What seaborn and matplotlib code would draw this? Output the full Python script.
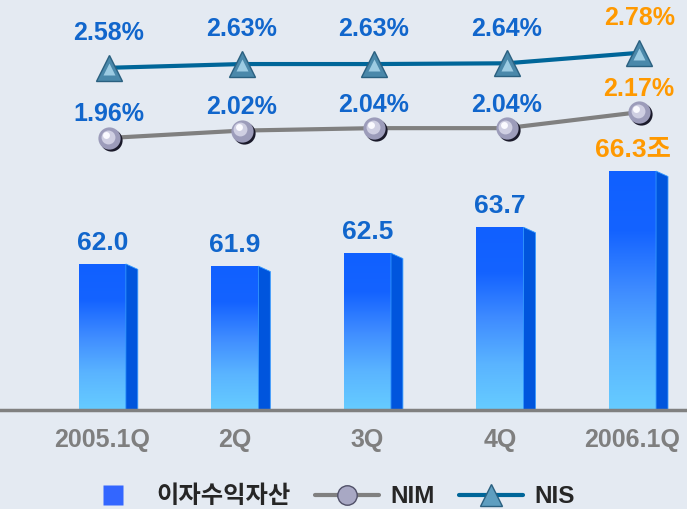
import numpy as np
import pandas as pd
import matplotlib
matplotlib.use("Agg")
import matplotlib.pyplot as plt
import matplotlib.transforms as mtransforms
from matplotlib.colors import LinearSegmentedColormap
from matplotlib.patches import Polygon
from matplotlib.lines import Line2D
import seaborn as sns

# ---------------------------- dados ----------------------------
quarters = ["2005.1Q", "2Q", "3Q", "4Q", "2006.1Q"]
assets = [62.0, 61.9, 62.5, 63.7, 66.3]
asset_labels = ["62.0", "61.9", "62.5", "63.7", "66.3조"]
nim = [1.96, 2.02, 2.04, 2.04, 2.17]
nis = [2.58, 2.63, 2.63, 2.64, 2.78]

# ---------------------------- estilo ----------------------------
bg = "#E4EAF2"
blue_txt = "#1166CC"
orange_txt = "#FF9900"
sns.set_style("white", {"axes.facecolor": bg, "figure.facecolor": bg})
plt.rcParams["font.family"] = ["Liberation Sans", "Noto Sans CJK KR"]

fig = plt.figure(figsize=(6.87, 5.09), dpi=100)
fig.patch.set_facecolor(bg)
ax = fig.add_axes([0, 99 / 509, 1, 410 / 509])
ax.set_facecolor(bg)

df = pd.DataFrame({"q": quarters, "v": assets})
bw = 0.355
sns.barplot(data=df, x="q", y="v", ax=ax, width=bw, color="#1060FF", saturation=1)

# gradiente nas barras + face lateral
cmap = LinearSegmentedColormap.from_list("g", ["#66CCFF", "#5AB4FF", "#3F8CFF", "#1463FF", "#1060FF"])
grad = np.linspace(0, 1, 256).reshape(-1, 1)
for p, v in zip(ax.patches, assets):
    x0 = p.get_x()
    w = p.get_width()
    p.set_facecolor("none")
    p.set_edgecolor("none")
    im = ax.imshow(grad, cmap=cmap, origin="lower", aspect="auto",
                   extent=[x0, x0 + w, 55.24, v], zorder=2)
    im.set_clip_path(p)
    d = 0.09
    side = Polygon([(x0 + w, 55.24), (x0 + w + d, 55.24), (x0 + w + d, v - 0.25), (x0 + w, v)],
                   closed=True, facecolor="#0055DD", edgecolor="#3399FF", lw=0.6, zorder=2)
    ax.add_patch(side)

ax.set_xlim(-0.772, 4.411)
ax.set_ylim(55.24, 74.22)

for i, (v, lab) in enumerate(zip(assets, asset_labels)):
    c = orange_txt if i == len(assets) - 1 else blue_txt
    ax.annotate(lab, (i, v), xytext=(0, 15), textcoords="offset points",
                ha="center", va="center", fontsize=19, fontweight="bold", color=c)

ax.set_xlabel("")
ax.set_ylabel("")
ax.set_yticks([])
ax.tick_params(axis="x", length=0, pad=13, labelsize=18, labelcolor="#7F7F7F")
for t in ax.get_xticklabels():
    t.set_fontweight("bold")
for s in ["top", "left", "right"]:
    ax.spines[s].set_visible(False)
ax.spines["bottom"].set_color("#808080")
ax.spines["bottom"].set_linewidth(2.5)

# ---------------------------- linhas NIM / NIS ----------------------------
xl = np.arange(len(quarters)) + 0.05

ax_nis = ax.twinx()
ax_nis.set_ylim(-1.983, 3.484)
ax_nim = ax.twinx()
ax_nim.set_ylim(-0.252, 3.082)
for a in (ax_nis, ax_nim):
    a.set_xlim(-0.772, 4.411)
    a.axis("off")

# NIS
ax_nis.plot(xl, nis, color="#006699", lw=3, zorder=3)
ax_nis.plot(xl, nis, ls="none", marker="^", ms=19, mfc="#4A88AA", mec="#2A6080", mew=1, zorder=4)
ax_nis.plot(xl, nis, ls="none", marker="^", ms=9, mfc="#9CCBE2", mec="none", zorder=5,
            transform=mtransforms.offset_copy(ax_nis.transData, fig=fig, x=0, y=-1, units="points"))

# NIM (esferas)
ax_nim.plot(xl, nim, color="#808080", lw=3, zorder=3)
ax_nim.plot(xl, nim, ls="none", marker="o", ms=16, mfc="#1A1A2A", mec="none", zorder=4,
            transform=mtransforms.offset_copy(ax_nim.transData, fig=fig, x=1.5, y=-1.5, units="points"))
ax_nim.plot(xl, nim, ls="none", marker="o", ms=16, mfc="#9C9CBA", mec="none", zorder=5)
ax_nim.plot(xl, nim, ls="none", marker="o", ms=10, mfc="#CFCFE2", mec="none", zorder=6,
            transform=mtransforms.offset_copy(ax_nim.transData, fig=fig, x=-1, y=1, units="points"))
ax_nim.plot(xl, nim, ls="none", marker="o", ms=5, mfc="#FAFAFF", mec="none", zorder=7,
            transform=mtransforms.offset_copy(ax_nim.transData, fig=fig, x=-2, y=2.5, units="points"))

for i in range(len(quarters)):
    c = orange_txt if i == len(quarters) - 1 else blue_txt
    ax_nis.annotate(f"{nis[i]:.2f}%", (xl[i], nis[i]), xytext=(0, 25), textcoords="offset points",
                    ha="center", va="center", fontsize=18, fontweight="bold", color=c)
    ax_nim.annotate(f"{nim[i]:.2f}%", (xl[i], nim[i]), xytext=(0, 17), textcoords="offset points",
                    ha="center", va="center", fontsize=18, fontweight="bold", color=c)

# ---------------------------- legenda ----------------------------
handles = [
    Line2D([], [], ls="none", marker="s", ms=14, mfc="#3366FF", mec="none"),
    Line2D([], [], color="#808080", lw=3, marker="o", ms=14, mfc="#A8A8C4", mec="#505068"),
    Line2D([], [], color="#006699", lw=3, marker="^", ms=16, mfc="#5E9EC0", mec="#2A6080"),
]
fig.legend(handles, ["이자수익자산", "NIM", "NIS"], loc="center", bbox_to_anchor=(0.478, 0.024),
           ncol=3, frameon=False, handlelength=2.6, handletextpad=0.5, columnspacing=1.0,
           prop={"size": 17.5, "weight": "bold"})

fig.savefig("out.png", dpi=100, facecolor=bg)
